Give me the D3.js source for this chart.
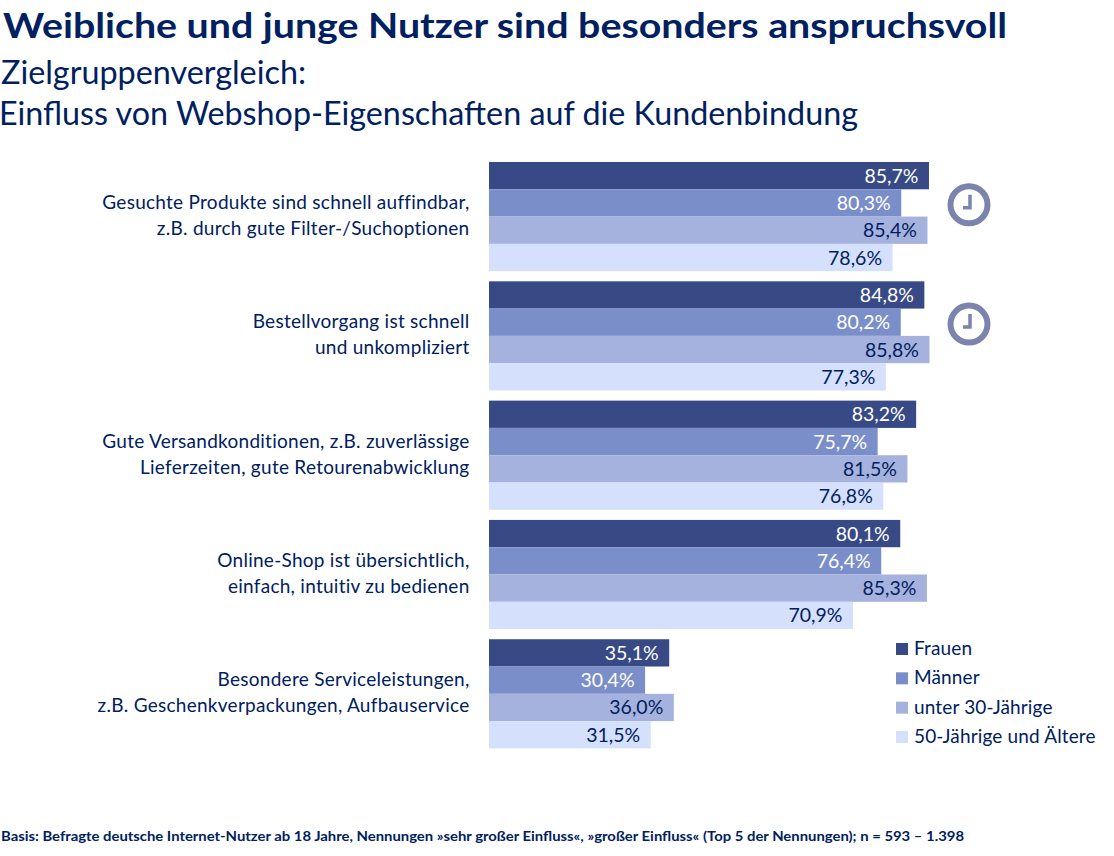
<!DOCTYPE html>
<html><head><meta charset="utf-8">
<script src="https://cdnjs.cloudflare.com/ajax/libs/d3/7.8.5/d3.min.js"></script>
<style>html,body{margin:0;padding:0;background:#fff}svg{display:block}text{font-family:Lato,"Open Sans",sans-serif}</style>
</head><body><svg id="c" width="1114" height="856"></svg>
<script>
const categories=["Gesuchte Produkte sind schnell auffindbar,|z.B. durch gute Filter-/Suchoptionen","Bestellvorgang ist schnell|und unkompliziert","Gute Versandkonditionen, z.B. zuverlässige|Lieferzeiten, gute Retourenabwicklung","Online-Shop ist übersichtlich,|einfach, intuitiv zu bedienen","Besondere Serviceleistungen,|z.B. Geschenkverpackungen, Aufbauservice"];
const seriesNames=["Frauen","Männer","unter 30-Jährige","50-Jährige und Ältere"];
const frauen=[85.7,84.8,83.2,80.1,35.1];
const maenner=[80.3,80.2,75.7,76.4,30.4];
const unter30=[85.4,85.8,81.5,85.3,36.0];
const ab50=[78.6,77.3,76.8,70.9,31.5];
const colors=["#384a86","#7a8fca","#a5b2dd","#d5e0fc"];
const labelColors=["#ffffff","#ffffff","#002060","#002060"];
const clockCategories=[0,1];
const series=[frauen,maenner,unter30,ab50];
const navy="#002060";
const svg=d3.select("#c");
const x=d3.scaleLinear().domain([0,100]).range([489,1002.4]);
const y0=d3.scaleBand().domain(categories).range([162,748.4]).paddingInner(0.085).paddingOuter(0);
const y1=d3.scaleBand().domain(seriesNames).range([0,y0.bandwidth()]);
const fmt=v=>v.toFixed(1).replace(".",",")+"%";
function txt(s,xp,yp,size,w,anchor,len,fill){const t=svg.append("text").attr("x",xp).attr("y",yp).attr("font-size",size).attr("font-weight",w||400).attr("fill",fill||navy).attr("text-anchor",anchor||"start").text(s);if(len)t.attr("textLength",len).attr("lengthAdjust","spacingAndGlyphs");return t;}
txt("Weibliche und junge Nutzer sind besonders anspruchsvoll",3,38,35,700,"start",1004);
txt("Zielgruppenvergleich:",1,84,32,400,"start",305);
txt("Einfluss von Webshop-Eigenschaften auf die Kundenbindung",-1,125,32,400,"start",859);
const g=svg.selectAll("g.cat").data(categories).join("g").attr("class","cat").attr("transform",d=>`translate(0,${y0(d)})`);
g.each(function(c,ci){
  const gg=d3.select(this);
  series.forEach((s,si)=>{
    const n=seriesNames[si];
    gg.append("rect").attr("x",x(0)).attr("y",y1(n)).attr("width",x(s[ci])-x(0)).attr("height",y1.bandwidth()).attr("fill",colors[si]);
    gg.append("text").attr("x",x(s[ci])-10.5).attr("y",y1(n)+y1.bandwidth()/2+7).attr("text-anchor","end").attr("font-size",19.5).attr("fill",labelColors[si]).text(fmt(s[ci]));
  });
  c.split("|").forEach((l,li)=>{
    gg.append("text").attr("x",469.5).attr("y",47+li*26).attr("text-anchor","end").attr("font-size",19).attr("letter-spacing",0.27).attr("fill",navy).text(l);
  });
});
clockCategories.forEach(i=>{
  const cy=y0(categories[i])+y0.bandwidth()/2-11.8, cx=969;
  const k=svg.append("g").attr("transform",`translate(${cx},${cy})`);
  k.append("circle").attr("r",18.5).attr("fill","none").attr("stroke","#7a84ac").attr("stroke-width",6);
  k.append("path").attr("d","M1,-10V3H-6").attr("fill","none").attr("stroke","#7a84ac").attr("stroke-width",3.5);
});
const ly=d3.scalePoint().domain(seriesNames).range([649,737]);
seriesNames.forEach((n,i)=>{
  svg.append("rect").attr("x",896).attr("y",ly(n)-6).attr("width",12).attr("height",12).attr("fill",colors[i]);
  txt(n,914,ly(n)+6,19,400).attr("letter-spacing",0.15);
});
txt("Basis: Befragte deutsche Internet-Nutzer ab 18 Jahre, Nennungen »sehr großer Einfluss«, »großer Einfluss« (Top 5 der Nennungen); n = 593 – 1.398",1,841,13.5,700,"start",963);
</script></body></html>
